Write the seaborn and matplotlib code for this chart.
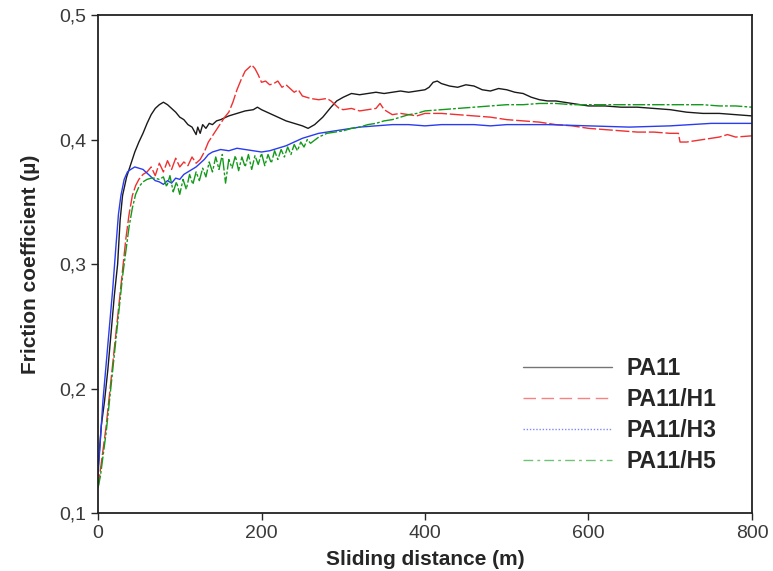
import pandas as pd
import matplotlib.pyplot as plt
import matplotlib.ticker as mticker
import seaborn as sns

# Friction coefficient vs sliding distance for the four samples
samples = ['PA11', 'PA11/H1', 'PA11/H3', 'PA11/H5']

pa11_x = [0, 4, 8, 12, 16, 20, 24, 27, 30, 35, 40, 45, 50, 55, 60, 65, 70, 75, 80, 85,
          90, 95, 100, 105, 110, 115, 120, 122, 125, 128, 132, 136, 140, 145, 150, 160, 170, 180, 190, 195,
          200, 210, 220, 230, 240, 250, 257, 265, 275, 285, 292, 300, 310, 320, 330, 340, 350, 360, 370, 380,
          390, 400, 405, 410, 415, 420, 430, 440, 450, 460, 470, 480, 490, 500, 510, 520, 530, 540, 550, 560,
          570, 580, 590, 600, 620, 640, 660, 680, 700, 720, 740, 760, 780, 800]
pa11_y = [0.135, 0.17, 0.19, 0.215, 0.245, 0.275, 0.30, 0.335, 0.355, 0.37, 0.38, 0.39, 0.398, 0.405, 0.413, 0.42, 0.425, 0.428, 0.43, 0.428,
          0.425, 0.422, 0.418, 0.416, 0.412, 0.41, 0.404, 0.41, 0.405, 0.412, 0.409, 0.413, 0.412, 0.415, 0.416, 0.419, 0.421, 0.423, 0.424, 0.426,
          0.424, 0.421, 0.418, 0.415, 0.413, 0.411, 0.409, 0.412, 0.418, 0.426, 0.431, 0.434, 0.437, 0.436, 0.437, 0.438, 0.437, 0.438, 0.439, 0.438,
          0.439, 0.44, 0.442, 0.446, 0.447, 0.445, 0.443, 0.442, 0.444, 0.443, 0.44, 0.439, 0.441, 0.44, 0.438, 0.437, 0.434, 0.432, 0.431, 0.431,
          0.43, 0.429, 0.428, 0.427, 0.427, 0.426, 0.426, 0.425, 0.424, 0.422, 0.421, 0.421, 0.42, 0.419]

h1_x = [0, 3, 6, 10, 14, 18, 22, 26, 30, 34, 38, 42, 46, 50, 55,
        60, 65, 70, 75, 80, 85, 90, 95, 100, 105, 110, 115, 120, 125,
        130, 135, 140, 145, 150, 155, 160, 165, 170, 175, 180, 185, 188, 192, 196,
        200, 205, 210, 215, 220, 225, 230, 235, 240, 245, 250, 260, 270, 280, 285, 290, 295,
        300, 310, 320, 330, 340, 345, 350, 360, 370, 380, 390, 400, 420, 440, 460, 480,
        500, 520, 540, 560, 580, 600, 620, 640, 660, 680, 700, 710, 712, 720, 740, 760, 770, 780, 800]
h1_y = [0.12, 0.135, 0.15, 0.17, 0.195, 0.22, 0.245, 0.27, 0.295, 0.32, 0.34, 0.355, 0.363, 0.368, 0.372,
        0.374, 0.378, 0.371, 0.381, 0.374, 0.383, 0.376, 0.385, 0.378, 0.382, 0.379, 0.386, 0.381, 0.384,
        0.39, 0.398, 0.403, 0.408, 0.413, 0.418, 0.422, 0.43, 0.44, 0.448, 0.455, 0.458, 0.46, 0.457, 0.452,
        0.446, 0.447, 0.444, 0.445, 0.447, 0.442, 0.444, 0.441, 0.438, 0.44, 0.435, 0.433, 0.432, 0.433, 0.431, 0.428, 0.425,
        0.424, 0.425, 0.423, 0.424, 0.425, 0.429, 0.424, 0.42, 0.421, 0.42, 0.419, 0.421, 0.421, 0.42, 0.419, 0.418,
        0.416, 0.415, 0.414, 0.412, 0.411, 0.409, 0.408, 0.407, 0.406, 0.406, 0.405, 0.405, 0.398, 0.398, 0.4, 0.402, 0.404, 0.402, 0.403]

h3_x = [0, 3, 6, 10, 14, 18, 22, 25, 28, 32, 36, 40, 45, 50, 55, 60, 65, 70, 75, 80,
        85, 90, 95, 100, 105, 110, 115, 120, 125, 130, 135, 140, 145, 150, 160, 170, 180, 190, 200, 210,
        220, 230, 240, 250, 260, 270, 280, 290, 300, 320, 340, 360, 380, 400, 420, 440, 460, 480, 500, 550,
        600, 650, 700, 750, 800]
h3_y = [0.13, 0.16, 0.19, 0.22, 0.25, 0.28, 0.315, 0.34, 0.355, 0.368, 0.374, 0.376, 0.378, 0.377, 0.376, 0.373, 0.37, 0.367, 0.366, 0.364,
        0.367, 0.365, 0.369, 0.368, 0.372, 0.374, 0.376, 0.378, 0.381, 0.384, 0.388, 0.39, 0.391, 0.392, 0.391, 0.393, 0.392, 0.391, 0.39, 0.391,
        0.393, 0.395, 0.398, 0.401, 0.403, 0.405, 0.406, 0.407, 0.408, 0.41, 0.411, 0.412, 0.412, 0.411, 0.412, 0.412, 0.412, 0.411, 0.412, 0.412,
        0.411, 0.41, 0.411, 0.413, 0.413]

h5_x = [0, 3, 6, 10, 14, 18, 22, 26, 30, 34, 38, 42, 46, 50, 55, 60, 65, 70, 75, 80,
        84, 88, 92, 96, 100, 104, 108, 112, 116, 120, 124, 128, 132, 136, 140, 144, 148, 152, 156, 160,
        164, 168, 172, 176, 180, 184, 188, 192, 196, 200, 204, 208, 212, 216, 220, 224, 228, 232, 236, 240,
        244, 248, 252, 256, 260, 270, 280, 290, 300, 310, 320, 330, 340, 350, 360, 370, 380, 390, 400, 420,
        440, 460, 480, 500, 520, 540, 560, 580, 600, 620, 640, 660, 680, 700, 720, 740, 760, 780, 800]
h5_y = [0.12, 0.13, 0.145, 0.165, 0.19, 0.215, 0.24, 0.265, 0.29, 0.31, 0.33, 0.345, 0.356, 0.362, 0.366, 0.368, 0.369, 0.369, 0.368, 0.37,
        0.362, 0.371, 0.358, 0.366, 0.356, 0.368, 0.36, 0.372, 0.364, 0.374, 0.367, 0.377, 0.37, 0.382, 0.374, 0.386, 0.376, 0.388, 0.365, 0.384,
        0.377, 0.387, 0.375, 0.386, 0.378, 0.388, 0.376, 0.387, 0.38, 0.389, 0.379, 0.388, 0.381, 0.391, 0.384, 0.392, 0.386, 0.394, 0.388, 0.396,
        0.391, 0.398, 0.394, 0.4, 0.397, 0.402, 0.405, 0.406, 0.407, 0.409, 0.41, 0.412, 0.413, 0.415, 0.416, 0.418, 0.42, 0.421, 0.423, 0.424,
        0.425, 0.426, 0.427, 0.428, 0.428, 0.429, 0.429, 0.428, 0.428, 0.428, 0.428, 0.428, 0.428, 0.428, 0.428, 0.428, 0.427, 0.427, 0.426]

x_ticks = [0, 200, 400, 600, 800]
y_ticks = [0.1, 0.2, 0.3, 0.4, 0.5]

# Long-form table for seaborn
frames = []
for name, xs, ys in zip(samples, [pa11_x, h1_x, h3_x, h5_x], [pa11_y, h1_y, h3_y, h5_y]):
    frames.append(pd.DataFrame({'distance': xs, 'mu': ys, 'sample': name}))
df = pd.concat(frames, ignore_index=True)

sns.set_style('ticks')
plt.rcParams['font.family'] = ['Liberation Sans', 'DejaVu Sans']

colors = {'PA11': '#1a1a1a', 'PA11/H1': '#f03030', 'PA11/H3': '#2a3cf0', 'PA11/H5': '#139a1a'}
# dense data in the original makes the curves look almost solid, so only small gaps here
line_dashes = {'PA11': '', 'PA11/H1': (10, 2), 'PA11/H3': '', 'PA11/H5': (9, 1.5, 2, 1.5)}
# the legend keys show the real patterns
legend_dashes = {'PA11': (None, None), 'PA11/H1': (0, (9, 4)), 'PA11/H3': (0, (1, 1.3)),
                 'PA11/H5': (0, (7, 3, 2, 3))}

fig = plt.figure(figsize=(7.73, 5.71), dpi=100)
ax = fig.add_axes([0.1268, 0.1016, 0.846, 0.872])

sns.lineplot(data=df, x='distance', y='mu', hue='sample', style='sample',
             palette=colors, dashes=line_dashes, estimator=None, sort=False,
             linewidth=1.0, ax=ax)

ax.set_xlim(0, 800)
ax.set_ylim(0.1, 0.5)
ax.set_xticks(x_ticks)
ax.set_yticks(y_ticks)
ax.yaxis.set_major_formatter(mticker.FuncFormatter(lambda v, p: f'{v:.1f}'.replace('.', ',')))
ax.tick_params(direction='out', length=5, width=1, labelsize=14, labelcolor='#3a3a3a')
for s in ax.spines.values():
    s.set_linewidth(1.3)
    s.set_color('#222222')

ax.set_xlabel('Sliding distance (m)', fontsize=15, fontweight='bold', labelpad=6)
ax.set_ylabel('Friction coefficient (µ)', fontsize=15, fontweight='bold', labelpad=14)

handles, labels = ax.get_legend_handles_labels()
leg = ax.legend(handles, labels, loc='lower right', bbox_to_anchor=(0.978, 0.038),
                frameon=False, handlelength=3.9, handletextpad=0.65, labelspacing=0.35,
                prop={'weight': 'bold', 'size': 16.5})
for h, lab in zip(leg.get_lines(), labels):
    h.set_linewidth(1.0)
    h.set_alpha(0.6)
    if legend_dashes[lab][0] is not None:
        h.set_linestyle(legend_dashes[lab])

plt.savefig('out.png', dpi=100)
